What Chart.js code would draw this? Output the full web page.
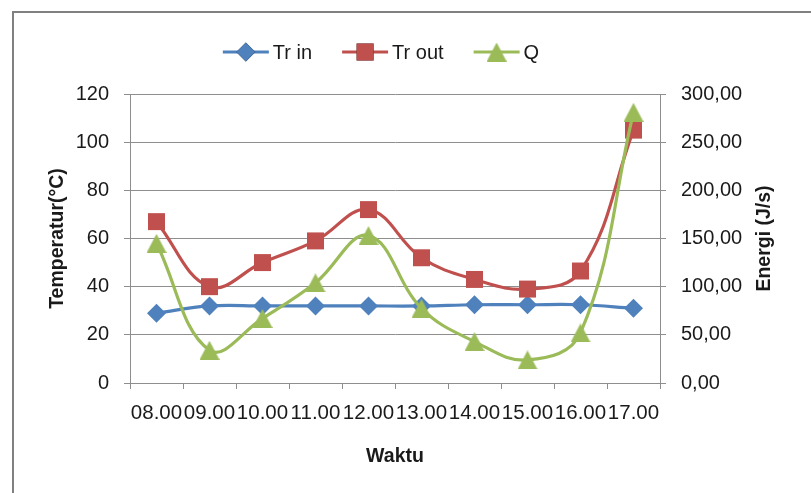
<!DOCTYPE html>
<html>
<head>
<meta charset="utf-8">
<script src="https://cdn.jsdelivr.net/npm/chart.js@4/dist/chart.umd.min.js"></script>
<style>
  html, body { margin: 0; padding: 0; background: #fff; }
  #wrap { width: 811px; height: 493px; position: relative; }
</style>
</head>
<body>
<div id="wrap"><canvas id="c" width="811" height="493"></canvas></div>
<script>
const categories = ['08.00','09.00','10.00','11.00','12.00','13.00','14.00','15.00','16.00','17.00'];
const trIn  = [29, 32, 32, 32, 32, 32, 32.5, 32.5, 32.5, 31];
const trOut = [67, 40, 50, 59, 72, 52, 43, 39, 46.5, 105];
const qVals = [145, 34, 67, 104, 153, 77.5, 43, 24, 52, 281];
const seriesNames = ['Tr in', 'Tr out', 'Q'];
const leftTickValues = [0, 20, 40, 60, 80, 100, 120];
const rightTickValues = [0, 50, 100, 150, 200, 250, 300];
const rightTitle = 'Energi (J/s)';

const BLUE = '#4F81BD', RED = '#C0504D', GREEN = '#9BBB59';
const GRID = '#8e8e8e';
const FONT = "'Liberation Sans', Arial, sans-serif";

// triangle marker image (centered on bounding box, like Excel)
function triangleImage(color) {
  const w = 20, h = 19;
  const cv = document.createElement('canvas');
  cv.width = w; cv.height = h;
  const c = cv.getContext('2d');
  c.fillStyle = color;
  c.beginPath();
  c.moveTo(w / 2, 0);
  c.lineTo(w, h);
  c.lineTo(0, h);
  c.closePath();
  c.fill();
  return cv;
}
const triImg = triangleImage(GREEN);

const frameAndLegend = {
  id: 'frameAndLegend',
  beforeDraw(chart) {
    const ctx = chart.ctx;
    ctx.save();
    ctx.fillStyle = '#fff';
    ctx.fillRect(0, 0, chart.width, chart.height);
    ctx.strokeStyle = '#808080';
    ctx.lineWidth = 2;
    ctx.beginPath();
    ctx.moveTo(13, 494);
    ctx.lineTo(13, 12);
    ctx.lineTo(812, 12);
    ctx.stroke();
    ctx.restore();
  },
  afterDraw(chart) {
    const ctx = chart.ctx;
    ctx.save();
    // right axis title, reading bottom-to-top
    const ys = chart.scales.y1;
    ctx.save();
    ctx.translate(765, (ys.top + ys.bottom) / 2);
    ctx.rotate(-Math.PI / 2);
    ctx.font = 'bold 19.5px ' + FONT;
    ctx.fillStyle = '#1a1a1a';
    ctx.textAlign = 'center';
    ctx.textBaseline = 'middle';
    ctx.fillText(rightTitle, 0, 0);
    ctx.restore();

    ctx.font = '20px ' + FONT;
    const lineLen = 46, gapText = 4, gapItem = 30;
    const widths = seriesNames.map(n => ctx.measureText(n).width);
    let total = 0;
    widths.forEach((w, i) => { total += lineLen + gapText + w + (i < widths.length - 1 ? gapItem : 0); });
    let x = 381 - total / 2;
    const y = 52;
    const colors = [BLUE, RED, GREEN];
    seriesNames.forEach((name, i) => {
      ctx.strokeStyle = colors[i];
      ctx.lineWidth = 3;
      ctx.beginPath();
      ctx.moveTo(x, y);
      ctx.lineTo(x + lineLen, y);
      ctx.stroke();
      const cx = x + lineLen / 2;
      if (i === 2) {
        ctx.drawImage(triImg, cx - triImg.width / 2, y - triImg.height / 2);
      } else {
        Chart.helpers.drawPoint(ctx, {
          pointStyle: i === 0 ? 'rectRot' : 'rect',
          radius: i === 0 ? 9.5 : 12,
          borderWidth: 0,
          rotation: 0
        }, cx, y);
        ctx.fillStyle = colors[i];
        ctx.fill();
      }
      ctx.fillStyle = '#1a1a1a';
      ctx.textBaseline = 'middle';
      ctx.textAlign = 'left';
      ctx.fillText(name, x + lineLen + gapText, y + 1);
      x += lineLen + gapText + widths[i] + gapItem;
    });
    ctx.restore();
  }
};

Chart.defaults.font.family = FONT;
Chart.defaults.font.size = 20;
Chart.defaults.color = '#1a1a1a';

const fmt2 = v => v.toFixed(2).replace('.', ',');

new Chart(document.getElementById('c'), {
  type: 'line',
  data: {
    labels: categories,
    datasets: [
      {
        label: seriesNames[0], data: trIn, yAxisID: 'y',
        borderColor: BLUE, backgroundColor: BLUE, borderWidth: 3.2,
        pointStyle: 'rectRot', pointRadius: 9.5, pointBorderWidth: 0,
        tension: 0.4, order: 2
      },
      {
        label: seriesNames[1], data: trOut, yAxisID: 'y',
        borderColor: RED, backgroundColor: RED, borderWidth: 3.2,
        pointStyle: 'rect', pointRadius: 12, pointBorderWidth: 0,
        tension: 0.4, order: 1
      },
      {
        label: seriesNames[2], data: qVals, yAxisID: 'y1',
        borderColor: GREEN, backgroundColor: GREEN, borderWidth: 3.2,
        pointStyle: triImg, pointRadius: 10,
        tension: 0.4, order: 0
      }
    ]
  },
  options: {
    responsive: false,
    animation: false,
    layout: { padding: { top: 94, left: 0, right: 0, bottom: 0 } },
    plugins: { legend: { display: false }, tooltip: { enabled: false } },
    scales: {
      x: {
        offset: true,
        grid: { offset: true, drawOnChartArea: false, drawTicks: true, tickLength: 6, color: GRID },
        border: { display: true, color: GRID },
        ticks: { autoSkip: false, maxRotation: 0, minRotation: 0, padding: 12, font: { size: 20.5 } },
        title: { display: true, text: 'Waktu', font: { size: 19.5, weight: 'bold' }, padding: { top: 0, bottom: 25 } },
        afterFit(s) { s.height = 110; }
      },
      y: {
        position: 'left', min: 0, max: 120,
        afterBuildTicks(s) { s.ticks = leftTickValues.map(v => ({ value: v })); },
        grid: { color: GRID, tickLength: 6, drawTicks: true },
        border: { display: true, color: GRID },
        ticks: { padding: 15, callback: v => String(v) },
        title: { display: true, text: 'Temperatur(°C)', font: { size: 19.5, weight: 'bold' }, padding: { top: 46, bottom: 0 } },
        afterFit(s) { s.width = 130; }
      },
      y1: {
        position: 'right', min: 0, max: 300,
        afterBuildTicks(s) { s.ticks = rightTickValues.map(v => ({ value: v })); },
        grid: { drawOnChartArea: false, color: GRID, tickLength: 6, drawTicks: true },
        border: { display: true, color: GRID },
        ticks: { padding: 15, callback: v => fmt2(v) },
        title: { display: false, text: rightTitle },
        afterFit(s) { s.width = 151; }
      }
    }
  },
  plugins: [frameAndLegend]
});
</script>
</body>
</html>
